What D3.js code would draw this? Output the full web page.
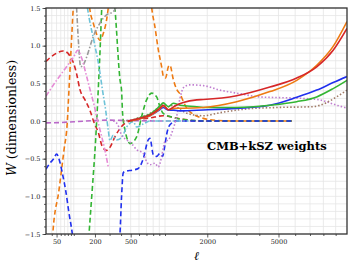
<!DOCTYPE html>
<html>
<head>
<meta charset="utf-8">
<script src="https://cdn.jsdelivr.net/npm/d3@7"></script>
<style>
  body { margin: 0; background: #fff; }
  svg { display: block; }
</style>
</head>
<body>
<div class="chart"></div>
<script>
// data: [ell, W] pairs
const redDashed = [[30,0.79],[36.6,0.84],[50,0.9],[66,0.93],[80,0.9],[87,0.86],[98,0.78],[111,0.62],[124,0.42],[147,0.28],[172,0.14],[196,-0.03],[220,-0.15],[247,-0.34],[277,-0.39],[303,-0.35],[344,-0.21],[390,-0.1],[439,-0.03],[492,0.0],[751,0.04],[968,0.07],[1300,0.03],[1800,0.0],[5800,0.0]];
const orangeDashed = [[38,-2.2],[42,-1.5],[55.5,-0.92],[68.5,-0.39],[78,-0.03],[83.5,0.41],[90,0.92],[98,1.5],[110,2.2],[140,2.2],[160,1.75],[172,1.47],[190,1.3],[210,1.15],[231,1.07],[255,1.17],[277,1.34],[290,1.5],[310,1.8],[350,2.3],[600,2.3],[700,2.1],[751,1.75],[778,1.5],[828,1.25],[882,0.95],[940,0.72],[968,0.6],[1010,0.57],[1062,0.72],[1093,0.74],[1160,0.55],[1229,0.42],[1300,0.36],[1375,0.26],[1455,0.17],[1615,0.09],[1883,0.035],[2240,0.01],[3000,0.0],[5800,0.0]];
const greenDashed = [[150,-2.2],[167,-1.5],[184,-0.92],[204,-0.25],[214,0.15],[222,0.5],[232,0.95],[243,1.5],[265,2.0],[310,2.0],[344,1.5],[390,0.55],[405,0.4],[415,0.1],[439,-0.12],[473,-0.27],[492,-0.3],[570,-0.21],[634,0.06],[702,0.28],[778,0.37],[856,0.32],[910,0.19],[968,0.1],[1093,0.06],[1375,0.02],[2000,0.0],[5800,0.0]];
const blueDashed = [[30,-0.64],[36.6,-0.56],[44,-0.5],[50,-0.44],[58,-0.55],[64,-0.69],[73.4,-0.92],[83.5,-1.22],[94.5,-1.49],[104,-1.8],[200,-2.2],[375,-1.7],[390,-1.49],[405,-1.0],[421,-0.69],[439,-0.67],[530,-0.65],[590,-0.63],[656,-0.5],[726,-0.25],[751,-0.23],[803,-0.45],[856,-0.47],[910,-0.43],[955,-0.47],[999,-0.32],[1030,-0.18],[1093,-0.05],[1229,0.0],[5800,0.0]];
const purpleDashed = [[30,-0.025],[60,-0.02],[100,-0.01],[200,0.005],[290,0.012],[500,0.005],[1000,0.0],[5800,0.0]];
const grayDashDot = [[100,2.2],[111,1.47],[119,1.0],[127,0.72],[140,0.75],[155,0.85],[190,1.12],[231,1.3],[277,1.41],[330,1.45],[380,1.6]];
const cyanDashDot = [[130,2.2],[161,1.47],[195,1.05],[225,0.72],[248,0.41],[270,0.15],[290,-0.12],[303,-0.26],[330,-0.19],[358,-0.25],[405,-0.22],[456,-0.08],[530,-0.01],[570,-0.08],[656,-0.04],[751,0.0],[1500,0.0]];
const pinkDashDot = [[30,0.33],[50,0.54],[76,0.72],[104,0.88],[114,0.94],[130,0.85],[155,0.59],[172,0.42],[185,0.3],[196,0.2],[211,0.05],[243,-0.21],[265,-0.385],[290,-0.61]];
const purpleDotted = [[330,0.0],[370,-0.05],[405,-0.19],[456,-0.25],[510,-0.3],[570,-0.38],[656,-0.43],[702,-0.54],[751,-0.58],[828,-0.56],[882,-0.61],[940,-0.47],[968,-0.36],[1000,-0.27],[1062,-0.25],[1160,-0.1],[1229,0.06],[1300,0.3],[1375,0.44],[1455,0.47],[1532,0.48],[1883,0.47],[2400,0.41],[3010,0.37],[4027,0.32],[5076,0.31],[6500,0.3],[7730,0.28],[9080,0.21],[10000,0.17]];
const brownDotted = [[420,0.0],[492,0.01],[612,0.05],[751,0.1],[910,0.19],[968,0.22],[1062,0.19],[1160,0.21],[1300,0.15],[1532,0.09],[1883,0.07],[2400,0.11],[3420,0.16],[5000,0.18],[7200,0.19],[8200,0.24],[9080,0.32],[10000,0.41]];
const redSolid = [[470,0.0],[612,0.036],[751,0.08],[910,0.17],[968,0.21],[1062,0.15],[1193,0.2],[1375,0.245],[1705,0.28],[1883,0.285],[3010,0.335],[4531,0.45],[6100,0.57],[7490,0.72],[8790,0.94],[10000,1.23]];
const orangeSolid = [[500,0.0],[612,0.03],[751,0.07],[910,0.16],[968,0.2],[1062,0.15],[1193,0.17],[1375,0.17],[1883,0.18],[3010,0.256],[4531,0.39],[6100,0.54],[7490,0.74],[8790,0.99],[10000,1.32]];
const greenSolid = [[500,0.0],[612,0.04],[751,0.09],[910,0.2],[968,0.24],[1062,0.19],[1160,0.235],[1300,0.21],[1705,0.19],[1883,0.18],[3010,0.18],[4531,0.21],[6100,0.256],[7490,0.32],[8790,0.43],[10000,0.54]];
const blueSolid = [[500,0.0],[612,0.03],[751,0.07],[910,0.15],[968,0.18],[1062,0.145],[1160,0.145],[1300,0.135],[1883,0.146],[3010,0.168],[4531,0.21],[6100,0.315],[7490,0.41],[8790,0.51],[10000,0.59]];

// ticks
const xMajor = [50, 200, 500, 2000, 5000];
const xMinor = [40, 60, 70, 80, 90, 100, 300, 400, 600, 700, 800, 900, 1000, 3000, 4000, 6000, 7000, 8000, 9000];
const yMajor = [-1.5, -1.0, -0.5, 0.0, 0.5, 1.0, 1.5];
const yMinor = d3.range(-15, 16).map((d) => d / 10);

const title = "CMB+kSZ weights";

// size of the page and plot box
const width = 353;
const height = 269;
const box = { left: 46, right: 347, top: 8, bottom: 234 };

const svg = d3
  .select(".chart")
  .append("svg")
  .attr("width", width)
  .attr("height", height)
  .style("font-family", "'DejaVu Serif', serif");

// x axis is a power law in ell
const x = d3.scalePow().exponent(0.3).domain([30, 10000]).range([box.left, box.right]);
const y = d3.scaleLinear().domain([-1.5, 1.5]).range([box.bottom, box.top]);

// grid
const grid = svg.append("g");
grid
  .selectAll("line.gy")
  .data(yMinor)
  .enter()
  .append("line")
  .attr("x1", box.left)
  .attr("x2", box.right)
  .attr("y1", (d) => y(d))
  .attr("y2", (d) => y(d))
  .attr("stroke", "#e6e6e6")
  .attr("stroke-width", 0.8);
grid
  .selectAll("line.gx")
  .data(xMajor.concat(xMinor))
  .enter()
  .append("line")
  .attr("x1", (d) => x(d))
  .attr("x2", (d) => x(d))
  .attr("y1", box.top)
  .attr("y2", box.bottom)
  .attr("stroke", "#e6e6e6")
  .attr("stroke-width", 0.8);

svg
  .append("clipPath")
  .attr("id", "plot")
  .append("rect")
  .attr("x", box.left)
  .attr("y", box.top)
  .attr("width", box.right - box.left)
  .attr("height", box.bottom - box.top);

// line styles
const dashed = "5,3";
const dashDot = "5,2,1.5,2";
const dotted = "1.5,2";
const series = [
  { data: purpleDashed, color: "#b968c9", dash: dashed },
  { data: redDashed, color: "#d62728", dash: dashed },
  { data: orangeDashed, color: "#ee7a12", dash: dashed },
  { data: greenDashed, color: "#33b533", dash: dashed },
  { data: blueDashed, color: "#2030ee", dash: dashed },
  { data: grayDashDot, color: "#9a9a9a", dash: dashDot },
  { data: cyanDashDot, color: "#6ec3d8", dash: dashDot },
  { data: pinkDashDot, color: "#e68bd6", dash: dashDot },
  { data: purpleDotted, color: "#c07ed0", dash: dotted },
  { data: brownDotted, color: "#a07a66", dash: dotted },
  { data: blueSolid, color: "#2030ee", dash: null },
  { data: greenSolid, color: "#33b533", dash: null },
  { data: orangeSolid, color: "#ee7a12", dash: null },
  { data: redSolid, color: "#d62728", dash: null },
];

const line = d3
  .line()
  .x((d) => x(d[0]))
  .y((d) => y(d[1]))
  .curve(d3.curveMonotoneX);

svg
  .append("g")
  .attr("clip-path", "url(#plot)")
  .selectAll("path")
  .data(series)
  .enter()
  .append("path")
  .attr("d", (d) => line(d.data))
  .attr("fill", "none")
  .attr("stroke", (d) => d.color)
  .attr("stroke-width", 1.6)
  .attr("stroke-dasharray", (d) => d.dash);

// axes
const xAxis = svg
  .append("g")
  .attr("transform", "translate(0," + box.bottom + ")")
  .call(d3.axisBottom(x).tickValues(xMajor).tickSize(3.5).tickPadding(2).tickFormat(d3.format("d")));
svg
  .append("g")
  .attr("transform", "translate(0," + box.bottom + ")")
  .call(d3.axisBottom(x).tickValues(xMinor).tickSize(2).tickFormat(""));
const yAxis = svg
  .append("g")
  .attr("transform", "translate(" + box.left + ",0)")
  .call(d3.axisLeft(y).tickValues(yMajor).tickSize(3.5).tickPadding(2).tickFormat(d3.format(".1f")));
svg
  .append("g")
  .attr("transform", "translate(" + box.left + ",0)")
  .call(d3.axisLeft(y).tickValues(yMinor).tickSize(2).tickFormat(""));

svg.selectAll(".domain").remove();
svg.selectAll(".tick line").attr("stroke", "#333").attr("stroke-width", 0.8);
svg
  .selectAll(".tick text")
  .attr("fill", "#222")
  .style("font-family", "'DejaVu Serif', serif")
  .style("font-size", "6.5px");

// frame
svg
  .append("rect")
  .attr("x", box.left)
  .attr("y", box.top)
  .attr("width", box.right - box.left)
  .attr("height", box.bottom - box.top)
  .attr("fill", "none")
  .attr("stroke", "#333")
  .attr("stroke-width", 1.3);

// labels
svg
  .append("text")
  .attr("x", (box.left + box.right) / 2)
  .attr("y", 260)
  .attr("text-anchor", "middle")
  .style("font-size", "12px")
  .style("font-style", "italic")
  .text("ℓ");

const ylab = svg
  .append("text")
  .attr("transform", "translate(16,118) rotate(-90)")
  .attr("text-anchor", "middle")
  .style("font-size", "12.5px");
ylab.append("tspan").style("font-style", "italic").text("W");
ylab.append("tspan").text(" (dimensionless)");

svg
  .append("text")
  .attr("x", 207)
  .attr("y", 150)
  .style("font-size", "11.5px")
  .style("font-weight", "bold")
  .text(title);
</script>
</body>
</html>
